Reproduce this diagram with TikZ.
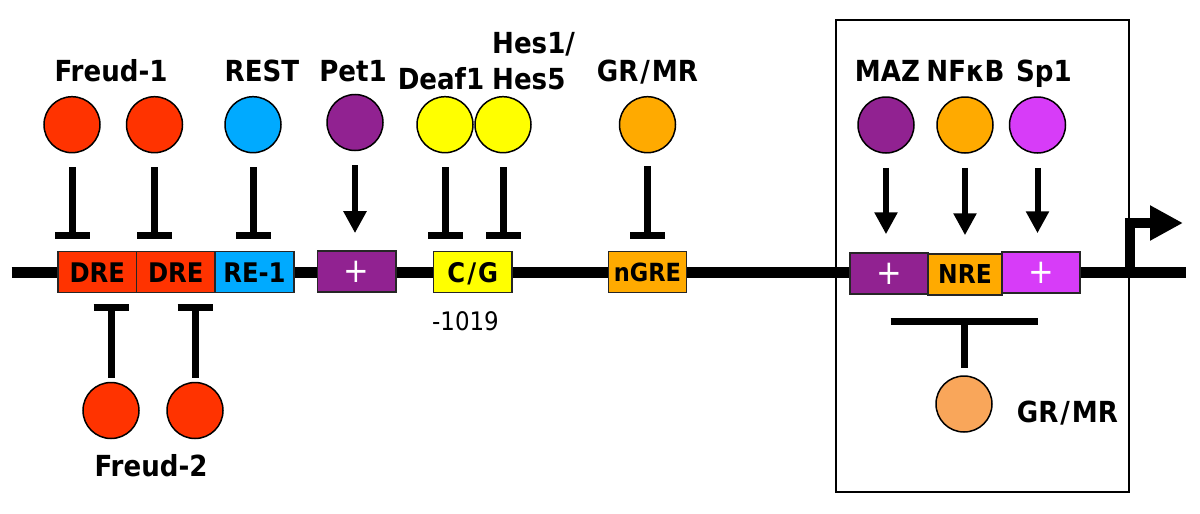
\documentclass[tikz,border=0pt]{standalone}
\usepackage{fontspec}
\setmainfont{DejaVu Sans}[FakeStretch=0.9]
\usetikzlibrary{arrows.meta}
\definecolor{cred}{HTML}{FF3300}
\definecolor{cblue}{HTML}{00AAFF}
\definecolor{cpurple}{HTML}{912291}
\definecolor{cyellow}{HTML}{FFFF00}
\definecolor{corange}{HTML}{FFAA00}
\definecolor{cmagenta}{HTML}{D73CF8}
\definecolor{clorange}{HTML}{F9A65A}
\tikzset{
  tf/.style={circle, draw=black, line width=1.5pt, minimum size=56pt, inner sep=0pt},
  site/.style={draw=black!85, line width=1.5pt, minimum height=41pt, inner sep=0pt, text depth=0pt,
    font=\bfseries\fontsize{27}{27}\selectfont},
  plusbox/.style={site, text=white, font=\fontsize{34}{34}\selectfont},
  lab/.style={inner sep=0pt, anchor=base, font=\bfseries\fontsize{29}{29}\selectfont},
  inh/.style={line width=7pt, -{Bar[width=35pt]}},
  act/.style={line width=6pt, -{Triangle[width=22pt,length=22pt]}},
  dna/.style={line width=11pt},
  promoter/.style={line width=10pt, line join=miter, -{Triangle[width=33pt,length=33pt]}},
  frame/.style={line width=1.5pt},
}
\begin{document}
\begin{tikzpicture}[x=1pt,y=-1pt]
\useasboundingbox (0,0) rectangle (1200,514);
% frame round the proximal promoter
\draw[frame] (836,20) rectangle (1129,492);
% DNA
\coordinate (dnaL) at (11.5,272.7);
\coordinate (dnaR) at (1186,272.7);
\draw[dna] (dnaL) -- (dnaR);
% promoter arrow
\coordinate (tss) at (1130,272);
\coordinate (tssend) at (1183,223);
\draw[promoter] (tss) |- (tssend);
% sites
\node[site, fill=cred, minimum width=78.6pt] (dre1) at (97.3,272.2) {DRE};
\node[site, fill=cred, minimum width=78.4pt] (dre2) at (175.8,272.2) {DRE};
\node[site, fill=cblue, minimum width=79pt] (re1) at (254.5,272.2) {RE-1};
\node[plusbox, fill=cpurple, minimum width=78.4pt] (petsite) at (356.8,271.4) {+};
\node[site, fill=cyellow, minimum width=78.4pt] (cg) at (472.8,272.2) {C\kern2pt/\kern2pt G};
\node[site, fill=corange, minimum width=78.4pt, font=\bfseries\fontsize{25}{25}\selectfont] (ngre) at (647.5,272) {nGRE};
\node[plusbox, fill=cpurple, minimum width=78pt] (mazsite) at (889,273.5) {+};
\node[site, fill=corange, minimum width=74pt, font=\bfseries\fontsize{26}{26}\selectfont] (nre) at (965,274.5) {NRE};
\node[plusbox, fill=cmagenta, minimum width=78pt] (spsite) at (1041,272.5) {+};
% factors
\node[tf, fill=cred] (f1a) at (72,124.7) {};
\node[tf, fill=cred] (f1b) at (154.5,124.7) {};
\node[tf, fill=cblue] (rest) at (253,124.7) {};
\node[tf, fill=cpurple] (pet) at (355,122.5) {};
\node[tf, fill=cyellow] (deaf) at (445,124.7) {};
\node[tf, fill=cyellow] (hes) at (503,124.7) {};
\node[tf, fill=corange] (gra) at (647.5,124.7) {};
\node[tf, fill=cpurple] (maz) at (886,125) {};
\node[tf, fill=corange] (nfkb) at (965,125) {};
\node[tf, fill=cmagenta] (sp) at (1037.5,125) {};
\node[tf, fill=cred] (f2a) at (111,410.5) {};
\node[tf, fill=cred] (f2b) at (195,410.5) {};
\node[tf, fill=clorange] (grb) at (964,404) {};
% connectors
\draw[inh, shorten <=14pt, shorten >=12pt] (f1a) -- (f1a |- dre1.north);
\draw[inh, shorten <=14pt, shorten >=12pt] (f1b) -- (f1b |- dre2.north);
\draw[inh, shorten <=14pt, shorten >=12pt] (rest) -- (rest |- re1.north);
\draw[act, shorten <=14pt, shorten >=17pt] (pet) -- (pet |- petsite.north);
\draw[inh, shorten <=14pt, shorten >=12pt] (deaf) -- (deaf |- cg.north);
\draw[inh, shorten <=14pt, shorten >=12pt] (hes) -- (hes |- cg.north);
\draw[inh, shorten <=13pt, shorten >=12pt] (gra) -- (gra |- ngre.north);
\draw[act, shorten <=14pt, shorten >=18pt] (maz) -- (maz |- mazsite.north);
\draw[act, shorten <=14pt, shorten >=18pt] (nfkb) -- (nfkb |- nre.north);
\draw[act, shorten <=14pt, shorten >=18pt] (sp) -- (sp |- spsite.north);
\draw[inh, shorten <=4pt, shorten >=11pt] (f2a) -- (f2a |- dre1.south);
\draw[inh, shorten <=4pt, shorten >=11pt] (f2b) -- (f2b |- dre2.south);
\draw[line width=7pt, -{Bar[width=147pt]}, shorten <=7.5pt, shorten >=22pt] (grb) -- (grb |- nre.south);
% labels
\node[lab] (lf1) at (111,81) {Freud-1};
\node[lab] (lrest) at (262,81) {REST};
\node[lab] (lpet) at (353,81) {Pet1};
\node[lab] (ldeaf) at (441,89) {Deaf1};
\node[lab, anchor=base west] (lhes1) at (492,53) {Hes1/};
\node[lab, anchor=base west] (lhes5) at (492,89) {Hes5};
\node[lab] (lgra) at (647.5,81) {GR\kern2pt/\kern2pt MR};
\node[lab] (lmaz) at (887.5,81) {MAZ};
\node[lab] (lnfkb) at (965.5,81) {NFκB};
\node[lab] (lsp) at (1044,81) {Sp1};
\node[lab] (lf2) at (151,476.7) {Freud-2};
\node[lab] (lgrb) at (1067.5,422.7) {GR\kern2pt/\kern2pt MR};
\node[inner sep=0pt, anchor=base, font=\fontsize{25.5}{25.5}\selectfont] (pos) at (465.5,330) {-1019};
\end{tikzpicture}
\end{document}
